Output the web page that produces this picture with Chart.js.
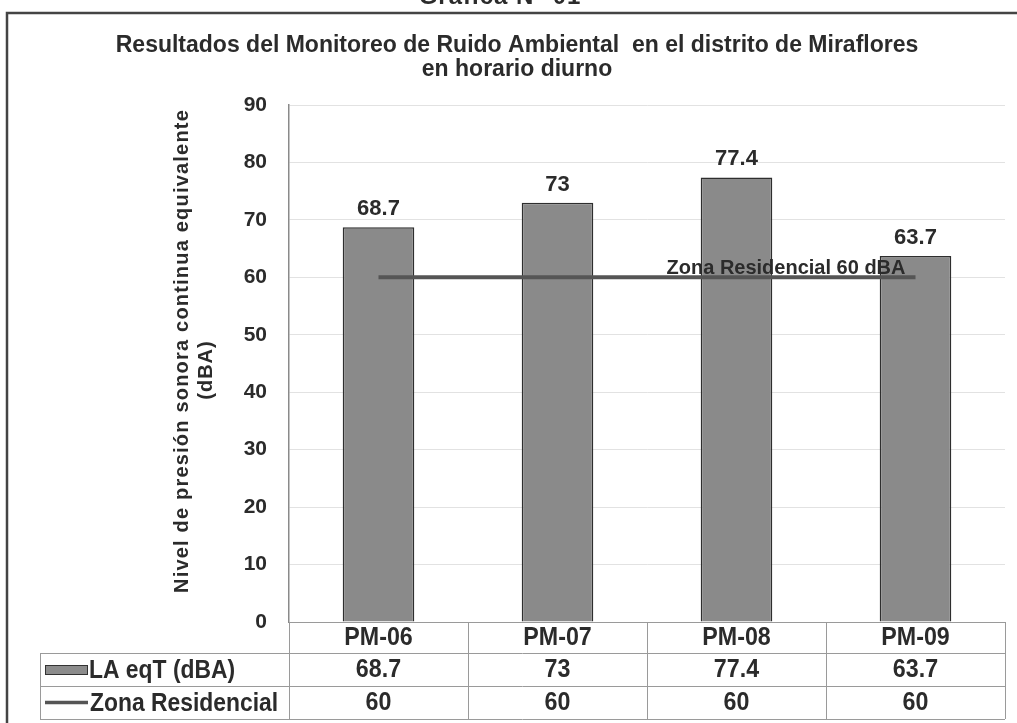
<!DOCTYPE html>
<html>
<head>
<meta charset="utf-8">
<script src="https://cdn.jsdelivr.net/npm/chart.js@4/dist/chart.umd.min.js"></script>
<style>
  body { margin: 0; background: #fff; }
  #wrap { width: 1017px; height: 723px; }
</style>
</head>
<body>
<div id="wrap"><canvas id="ruidoChart" width="1017" height="723"></canvas></div>
<script>
// datos de la grafica
const puntos = ['PM-06', 'PM-07', 'PM-08', 'PM-09'];
const laeqt = [68.7, 73, 77.4, 63.7];
const zonaResidencial = [60, 60, 60, 60];
const serieNombres = ['LA eqT (dBA)', 'Zona Residencial'];
const yTicks = [0, 10, 20, 30, 40, 50, 60, 70, 80, 90];
const titulo = ['Resultados del Monitoreo de Ruido Ambiental  en el distrito de Miraflores', 'en horario diurno'];

const ARIAL = '"Liberation Sans", Arial, sans-serif';
const TXT = '#2b2b2b';

// texto algo comprimido, imitando Arial Narrow
function narrowText(ctx, text, x, y, sx) {
    ctx.save();
    ctx.translate(x, y);
    ctx.scale(sx, 1);
    ctx.fillText(text, 0, 0);
    ctx.restore();
}

// marco, titulos, etiquetas y tabla de datos
const extras = {
    id: 'extras',
    beforeDraw(chart) {
        const ctx = chart.ctx;
        ctx.save();
        ctx.fillStyle = '#fff';
        ctx.fillRect(0, 0, chart.width, chart.height);
        ctx.fillStyle = TXT;
        ctx.font = 'bold 24px ' + ARIAL;
        ctx.letterSpacing = '1px';
        ctx.textAlign = 'center';
        ctx.textBaseline = 'alphabetic';
        ctx.fillText('Gráfica N° 01', 500, 4);
        ctx.letterSpacing = '0px';
        ctx.strokeStyle = '#444';
        ctx.lineWidth = 2.5;
        ctx.beginPath();
        ctx.moveTo(7, 723);
        ctx.lineTo(7, 13);
        ctx.lineTo(1017, 13);
        ctx.stroke();

        // titulo principal
        ctx.font = 'bold 23px ' + ARIAL;
        ctx.textBaseline = 'middle';
        ctx.fillText(titulo[0], 517, 46);
        ctx.fillText(titulo[1], 517, 70);
        ctx.restore();
    },
    afterDatasetsDraw(chart) {
        const ctx = chart.ctx;
        const x = chart.scales.x;
        const y = chart.scales.y;
        const area = chart.chartArea;
        ctx.save();
        ctx.fillStyle = TXT;

        // titulo del eje y
        ctx.save();
        ctx.font = 'bold 20px ' + ARIAL;
        ctx.letterSpacing = '1.2px';
        ctx.textAlign = 'center';
        ctx.textBaseline = 'middle';
        ctx.translate(182, 351);
        ctx.rotate(-Math.PI / 2);
        ctx.fillText('Nivel de presión sonora continua equivalente', 0, 0);
        ctx.restore();
        ctx.save();
        ctx.font = 'bold 20px ' + ARIAL;
        ctx.letterSpacing = '1px';
        ctx.textAlign = 'center';
        ctx.textBaseline = 'middle';
        ctx.translate(206, 370);
        ctx.rotate(-Math.PI / 2);
        ctx.fillText('(dBA)', 0, 0);
        ctx.restore();

        // etiquetas de valores sobre las barras
        ctx.font = 'bold 22px ' + ARIAL;
        ctx.textAlign = 'center';
        ctx.textBaseline = 'alphabetic';
        laeqt.forEach((v, i) => {
            ctx.fillText(String(v), x.getPixelForValue(i), y.getPixelForValue(v) - 12);
        });

        // etiqueta de la linea limite
        const last = zonaResidencial.length - 1;
        ctx.font = 'bold 20px ' + ARIAL;
        ctx.textAlign = 'right';
        ctx.fillText('Zona Residencial 60 dBA', x.getPixelForValue(last) - 10, y.getPixelForValue(zonaResidencial[last]) - 3);

        // tabla de datos
        const colW = (area.right - area.left) / puntos.length;
        const rowTop = [area.bottom, 653, 686, 719];
        const tableLeft = 40;
        ctx.strokeStyle = '#9a9a9a';
        ctx.lineWidth = 1;
        ctx.beginPath();
        rowTop.forEach((ry, r) => {
            ctx.moveTo(r === 0 ? area.left : tableLeft, ry + 0.5);
            ctx.lineTo(area.right, ry + 0.5);
        });
        for (let c = 0; c <= puntos.length; c++) {
            const cx = Math.round(area.left + c * colW) + 0.5;
            ctx.moveTo(cx, rowTop[0]);
            ctx.lineTo(cx, rowTop[3]);
        }
        ctx.moveTo(tableLeft + 0.5, rowTop[1]);
        ctx.lineTo(tableLeft + 0.5, rowTop[3]);
        ctx.stroke();

        ctx.textAlign = 'center';
        ctx.textBaseline = 'middle';
        ctx.font = 'bold 25px ' + ARIAL;
        puntos.forEach((p, i) => {
            const cx = x.getPixelForValue(i);
            narrowText(ctx, p, cx, (rowTop[0] + rowTop[1]) / 2 + 1, 0.93);
            narrowText(ctx, String(laeqt[i]), cx, (rowTop[1] + rowTop[2]) / 2 + 1, 0.93);
            narrowText(ctx, String(zonaResidencial[i]), cx, (rowTop[2] + rowTop[3]) / 2 + 1, 0.93);
        });

        // leyenda dentro de la tabla
        ctx.fillStyle = '#8c8c8c';
        ctx.fillRect(45, 665, 43, 10);
        ctx.strokeStyle = '#333';
        ctx.strokeRect(45.5, 665.5, 42, 9);
        ctx.strokeStyle = '#555';
        ctx.lineWidth = 3.5;
        ctx.beginPath();
        ctx.moveTo(45, 702.5);
        ctx.lineTo(88, 702.5);
        ctx.stroke();

        ctx.fillStyle = TXT;
        ctx.textAlign = 'left';
        ctx.font = 'bold 26px ' + ARIAL;
        narrowText(ctx, serieNombres[0], 89, (rowTop[1] + rowTop[2]) / 2 + 1, 0.88);
        narrowText(ctx, serieNombres[1], 90, (rowTop[2] + rowTop[3]) / 2 + 1, 0.88);
        ctx.restore();
    }
};

const ctx = document.getElementById('ruidoChart').getContext('2d');
new Chart(ctx, {
    type: 'bar',
    data: {
        labels: puntos,
        datasets: [{
            type: 'line',
            label: serieNombres[1],
            data: zonaResidencial,
            borderColor: '#555',
            borderWidth: 4,
            pointRadius: 0,
            fill: false,
            order: 0
        }, {
            label: serieNombres[0],
            data: laeqt,
            backgroundColor: '#8a8a8a',
            borderColor: '#2e2e2e',
            borderWidth: 1.5,
            barPercentage: 0.4,
            categoryPercentage: 1,
            order: 1
        }]
    },
    options: {
        responsive: false,
        animation: false,
        layout: { padding: { left: 0, right: 12, top: 105, bottom: 101 } },
        plugins: {
            legend: { display: false },
            tooltip: { enabled: false },
            title: { display: false }
        },
        scales: {
            x: { display: false },
            y: {
                min: 0,
                max: 90,
                afterFit(scale) { scale.width = 289; },
                afterBuildTicks(scale) { scale.ticks = yTicks.map(v => ({ value: v })); },
                ticks: {
                    color: TXT,
                    padding: 22,
                    font: { family: ARIAL, size: 21, weight: 'bold' }
                },
                grid: { color: '#e2e2e2', drawTicks: false },
                border: { color: '#8a8a8a', width: 1.5 }
            }
        }
    },
    plugins: [extras]
});
</script>
</body>
</html>
